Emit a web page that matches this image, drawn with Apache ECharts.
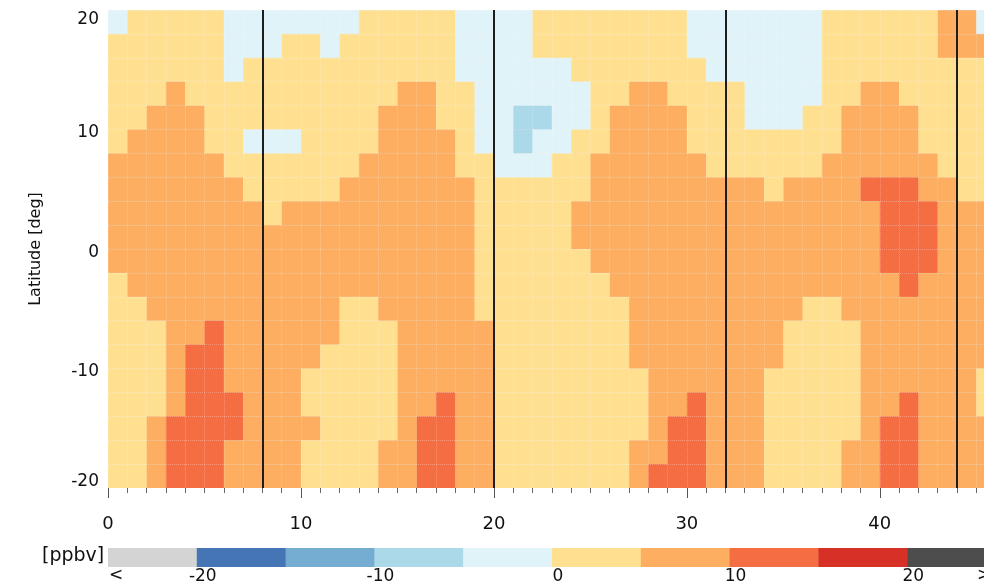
<!DOCTYPE html>
<html>
<head>
<meta charset="utf-8">
<script src="https://cdn.jsdelivr.net/npm/echarts@6/dist/echarts.min.js"></script>
<style>
html,body{margin:0;padding:0;background:#fff;}
#chart{width:984px;height:586px;}
</style>
</head>
<body>
<div id="chart"></div>
<script>
// Month index (cell left edge) along the x axis
const months = [0,1,2,3,4,5,6,7,8,9,10,11,12,13,14,15,16,17,18,19,20,21,22,23,24,25,26,27,28,29,30,31,32,33,34,35,36,37,38,39,40,41,42,43,44,45];
// Latitude cell centres, north to south
const latitudes = [19,17,15,13,11,9,7,5,3,1,-1,-3,-5,-7,-9,-11,-13,-15,-17,-19];
// Anomaly [ppbv] per month, listed from north (19) to south (-19)
const ppbvByMonth = [
  [-3,3,3,3,3,3,7,7,7,7,7,3,3,3,3,3,3,3,3,3],
  [3,3,3,3,3,7,7,7,7,7,7,7,3,3,3,3,3,3,3,3],
  [3,3,3,3,7,7,7,7,7,7,7,7,7,3,3,3,3,7,7,7],
  [3,3,3,7,7,7,7,7,7,7,7,7,7,7,7,7,7,12,12,12],
  [3,3,3,3,7,7,7,7,7,7,7,7,7,7,12,12,12,12,12,12],
  [3,3,3,3,3,3,7,7,7,7,7,7,7,12,12,12,12,12,12,12],
  [-3,-3,-3,3,3,3,3,7,7,7,7,7,7,7,7,7,12,12,7,7],
  [-3,-3,3,3,3,-3,3,3,7,7,7,7,7,7,7,7,7,7,7,7],
  [-3,-3,3,3,3,-3,3,3,3,7,7,7,7,7,7,7,7,7,7,7],
  [-3,3,3,3,3,-3,3,3,7,7,7,7,7,7,7,7,7,7,7,7],
  [-3,3,3,3,3,3,3,3,7,7,7,7,7,7,7,3,3,7,3,3],
  [-3,-3,3,3,3,3,3,3,7,7,7,7,7,7,3,3,3,3,3,3],
  [-3,3,3,3,3,3,3,7,7,7,7,7,3,3,3,3,3,3,3,3],
  [3,3,3,3,3,3,7,7,7,7,7,7,3,3,3,3,3,3,3,3],
  [3,3,3,3,7,7,7,7,7,7,7,7,7,3,3,3,3,3,7,7],
  [3,3,3,7,7,7,7,7,7,7,7,7,7,7,7,7,7,7,7,7],
  [3,3,3,7,7,7,7,7,7,7,7,7,7,7,7,7,7,12,12,12],
  [3,3,3,3,3,7,7,7,7,7,7,7,7,7,7,7,12,12,12,12],
  [-3,-3,-3,3,3,3,3,7,7,7,7,7,7,7,7,7,7,7,7,7],
  [-3,-3,-3,-3,-3,-3,3,3,3,3,3,3,3,7,7,7,7,7,7,7],
  [-3,-3,-3,-3,-3,-3,-3,3,3,3,3,3,3,3,3,3,3,3,3,3],
  [-3,-3,-3,-3,-8,-8,-3,3,3,3,3,3,3,3,3,3,3,3,3,3],
  [3,3,-3,-3,-8,-3,-3,3,3,3,3,3,3,3,3,3,3,3,3,3],
  [3,3,-3,-3,-3,-3,3,3,3,3,3,3,3,3,3,3,3,3,3,3],
  [3,3,3,-3,-3,3,3,3,7,7,3,3,3,3,3,3,3,3,3,3],
  [3,3,3,3,3,3,7,7,7,7,7,3,3,3,3,3,3,3,3,3],
  [3,3,3,3,7,7,7,7,7,7,7,7,3,3,3,3,3,3,3,3],
  [3,3,3,7,7,7,7,7,7,7,7,7,7,7,7,3,3,3,7,7],
  [3,3,3,7,7,7,7,7,7,7,7,7,7,7,7,7,7,7,7,12],
  [3,3,3,3,7,7,7,7,7,7,7,7,7,7,7,7,7,12,12,12],
  [-3,-3,3,3,3,3,7,7,7,7,7,7,7,7,7,7,12,12,12,12],
  [-3,-3,-3,3,3,3,3,7,7,7,7,7,7,7,7,7,7,7,7,7],
  [-3,-3,-3,3,3,3,3,7,7,7,7,7,7,7,7,7,7,7,7,7],
  [-3,-3,-3,-3,-3,3,3,7,7,7,7,7,7,7,7,7,7,7,7,7],
  [-3,-3,-3,-3,-3,3,3,3,7,7,7,7,7,7,7,3,3,3,3,3],
  [-3,-3,-3,-3,-3,3,3,7,7,7,7,7,7,3,3,3,3,3,3,3],
  [-3,-3,-3,-3,3,3,3,7,7,7,7,7,3,3,3,3,3,3,3,3],
  [3,3,3,3,3,3,7,7,7,7,7,7,3,3,3,3,3,3,3,3],
  [3,3,3,3,7,7,7,7,7,7,7,7,7,3,3,3,3,3,7,7],
  [3,3,3,7,7,7,7,12,7,7,7,7,7,7,7,7,7,7,7,7],
  [3,3,3,7,7,7,7,12,12,12,12,7,7,7,7,7,7,12,12,12],
  [3,3,3,3,7,7,7,12,12,12,12,12,7,7,7,7,12,12,12,12],
  [3,3,3,3,3,3,7,7,12,12,12,7,7,7,7,7,7,7,7,7],
  [7,7,3,3,3,3,3,7,7,7,7,7,7,7,7,7,7,7,7,7],
  [7,7,3,3,3,3,3,3,7,7,7,7,7,7,7,7,7,7,7,7],
  [-3,7,3,3,3,3,3,3,7,7,7,7,7,7,7,3,3,7,7,7]
];
// Vertical separators (month index)
const yearLines = [8, 20, 32, 44];
// Colour scale
const cbEdges = [-25,-20,-15,-10,-5,0,5,10,15,20,25];
const cbColors = ['#d4d4d4','#4575b4','#74add1','#abd9e9','#e0f3f8','#fee090','#fdae61','#f46d43','#d73027','#4d4d4d'];
const cbLabelValues = [-20,-10,0,10,20];

function colorOf(v) {
  for (let i = 0; i < cbColors.length; i++) {
    if (v < cbEdges[i + 1]) return cbColors[i];
  }
  return cbColors[cbColors.length - 1];
}

const latStep = Math.abs(latitudes[0] - latitudes[1]);
const cells = [];
months.forEach((m, i) => {
  latitudes.forEach((lat, j) => {
    cells.push([m, lat, ppbvByMonth[i][j]]);
  });
});
const cbData = cbColors.map((c, i) => [cbEdges[i], cbEdges[i + 1], i]);

const FONT = 'DejaVu Sans';
const dotted = {color: 'rgba(255,255,255,0.25)', type: 'dotted', width: 1};

function clipTo(params, r) {
  return echarts.graphic.clipRectByRect(r, {
    x: params.coordSys.x, y: params.coordSys.y,
    width: params.coordSys.width, height: params.coordSys.height
  });
}

function renderCell(params, api) {
  const m = api.value(0), lat = api.value(1), v = api.value(2);
  const p0 = api.coord([m, lat + latStep / 2]);
  const p1 = api.coord([m + 1, lat - latStep / 2]);
  const r = clipTo(params, {x: p0[0], y: p0[1], width: p1[0] - p0[0] + 0.6, height: p1[1] - p0[1] + 0.6});
  return r && {type: 'rect', shape: r, style: {fill: colorOf(v)}};
}

function renderBar(params, api) {
  const a = api.value(0), b = api.value(1), idx = api.value(2);
  const p0 = api.coord([a, 1]);
  const p1 = api.coord([b, 0]);
  const r = clipTo(params, {x: p0[0], y: p0[1], width: p1[0] - p0[0] + 0.5, height: p1[1] - p0[1]});
  return r && {type: 'rect', shape: r, style: {fill: cbColors[idx]}};
}

const chart = echarts.init(document.getElementById('chart'), null, {renderer: 'canvas'});
chart.setOption({
  animation: false,
  backgroundColor: '#ffffff',
  textStyle: {fontFamily: FONT},
  grid: [
    {left: 108, top: 10, height: 478, width: 964.76, outerBoundsMode: 'none', containLabel: false},
    {left: 108, top: 548, height: 19, width: 888, outerBoundsMode: 'none', containLabel: false}
  ],
  xAxis: [
    {
      gridIndex: 0, type: 'value', min: 0, max: 50, interval: 10, z: 3,
      axisLine: {show: false, onZero: false},
      axisTick: {show: true, length: 10, lineStyle: {color: '#555', width: 1}},
      minorTick: {show: true, splitNumber: 10, length: 5, lineStyle: {color: '#666', width: 1}},
      splitLine: {show: true, lineStyle: dotted},
      minorSplitLine: {show: true, lineStyle: dotted},
      axisLabel: {margin: 27, fontSize: 18, fontFamily: FONT, color: '#111', showMaxLabel: false}
    },
    {
      gridIndex: 1, type: 'value', min: -25, max: 25, interval: 5,
      axisLine: {show: false, onZero: false}, axisTick: {show: false}, splitLine: {show: false},
      axisLabel: {
        margin: 1, fontSize: 17, lineHeight: 18, fontFamily: FONT, color: '#111', padding: [0, 0, 0, 12],
        formatter: v => cbLabelValues.includes(v) ? String(v) : ''
      }
    }
  ],
  yAxis: [
    {
      gridIndex: 0, type: 'value', min: -20, max: 20, interval: 10, z: 3,
      axisLine: {show: false, onZero: false}, axisTick: {show: false},
      minorTick: {show: false, splitNumber: 5},
      splitLine: {show: true, lineStyle: dotted},
      minorSplitLine: {show: true, lineStyle: dotted},
      name: 'Latitude [deg]', nameLocation: 'middle', nameGap: 64,
      nameTextStyle: {fontSize: 16, fontFamily: FONT, color: '#111'},
      axisLabel: {
        margin: 9, fontSize: 17, fontFamily: FONT, color: '#111',
        formatter: v => v === 20 ? '{t|20}' : (v === -20 ? '{b|-20}' : '{m|' + v + '}'),
        rich: {
          t: {fontSize: 17, fontFamily: FONT, color: '#111', padding: [20, 0, 0, 0]},
          m: {fontSize: 17, fontFamily: FONT, color: '#111', padding: [7, 0, 0, 0]},
          b: {fontSize: 17, fontFamily: FONT, color: '#111', padding: [0, 0, 12, 0]}
        }
      }
    },
    {gridIndex: 1, type: 'value', min: 0, max: 1, show: false}
  ],
  series: [
    {
      type: 'custom', name: 'ppbv', xAxisIndex: 0, yAxisIndex: 0,
      renderItem: renderCell, data: cells, z: 2, silent: true
    },
    {
      type: 'line', xAxisIndex: 0, yAxisIndex: 0, data: [], z: 10, silent: true,
      markLine: {
        silent: true, z: 10, symbol: ['none', 'none'], label: {show: false},
        lineStyle: {color: '#1e1e1e', width: 2, type: 'solid'},
        data: yearLines.map(x => ({xAxis: x}))
      }
    },
    {
      type: 'custom', name: 'colorbar', xAxisIndex: 1, yAxisIndex: 1,
      renderItem: renderBar, data: cbData, silent: true
    }
  ],
  graphic: [
    {type: 'text', left: 42, top: 547, style: {text: '[ppbv]', fontSize: 19, fontFamily: FONT, fill: '#111'}},
    {type: 'text', left: 109, top: 567, style: {text: '<', fontSize: 17, fontFamily: FONT, fill: '#111'}},
    {type: 'text', left: 977, top: 567, style: {text: '>', fontSize: 17, fontFamily: FONT, fill: '#111'}}
  ]
});
</script>
</body>
</html>
